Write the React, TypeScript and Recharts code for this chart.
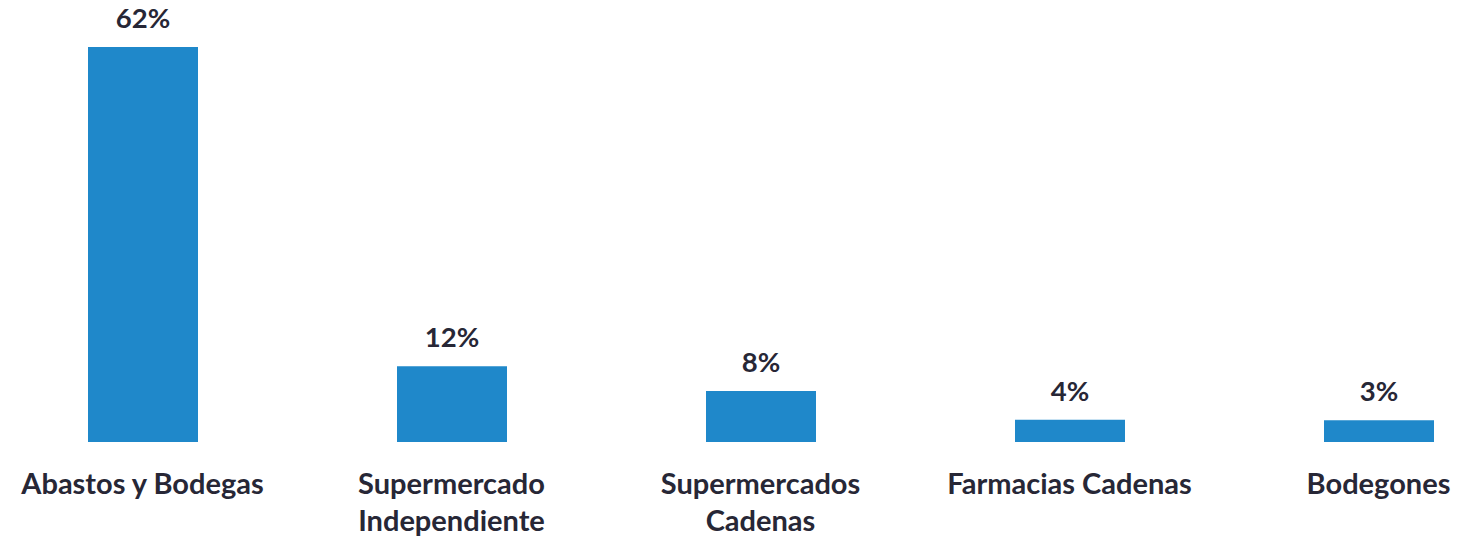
import React from 'react';
import { BarChart, Bar, XAxis, YAxis, LabelList } from 'recharts';

// categories (\n marks where the tick label wraps)
const categories = [
  'Abastos y Bodegas',
  'Supermercado\nIndependiente',
  'Supermercados\nCadenas',
  'Farmacias Cadenas',
  'Bodegones',
];
const shares = [62, 11.9, 8, 3.5, 3.4];
const shareLabels = ['62%', '12%', '8%', '4%', '3%'];

const BAR_COLOR = '#1F88CA';
const TEXT_COLOR = '#272736';
const FONT = 'Lato, "Open Sans", sans-serif';

const data = categories.map((name, i) => ({ name, value: shares[i], label: shareLabels[i] }));

const CategoryTick: React.FC<any> = ({ x, y, payload }) => {
  const lines = String(payload.value).split('\n');
  return (
    <text x={x} y={y} textAnchor="middle" fill={TEXT_COLOR} fontFamily={FONT} fontWeight={700} fontSize={29}>
      {lines.map((line, i) => (
        <tspan key={i} x={x} y={y + 44 + i * 37}>{line}</tspan>
      ))}
    </text>
  );
};

const ValueLabel: React.FC<any> = ({ x, y, width, index }) => (
  <text x={x + width / 2} y={y - 19} textAnchor="middle" fill={TEXT_COLOR} fontFamily={FONT} fontWeight={700} fontSize={27.5}>
    {data[index].label}
  </text>
);

export default function App() {
  return (
    <div style={{ position: 'absolute', left: 0, top: 0, width: 1478, height: 539, overflow: 'hidden', background: '#fff' }}>
      <div style={{ position: 'absolute', left: -12.5, top: 0 }}>
        <BarChart width={1545} height={539} data={data} margin={{ top: 47, right: 0, bottom: 0, left: 0 }}>
          <XAxis dataKey="name" height={97} axisLine={false} tickLine={false} interval={0} tick={<CategoryTick />} />
          <YAxis hide domain={[0, 62]} />
          <Bar dataKey="value" fill={BAR_COLOR} barSize={110} isAnimationActive={false}>
            <LabelList dataKey="label" content={<ValueLabel />} />
          </Bar>
        </BarChart>
      </div>
    </div>
  );
}
